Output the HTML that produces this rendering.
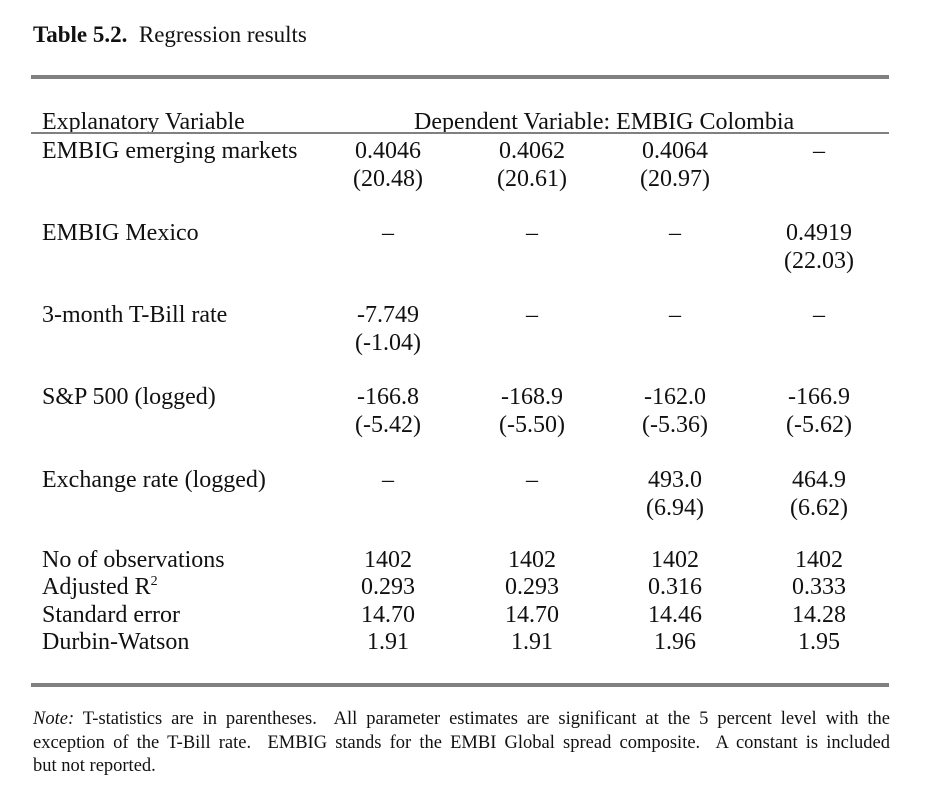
<!DOCTYPE html>
<html><head><style>
body{margin:0;width:937px;height:800px;background:#fff;position:relative;font-family:"Liberation Serif",serif;color:#111;overflow:hidden}
.t{position:absolute;font-size:24px;line-height:28px;white-space:nowrap}
.c{position:absolute;font-size:24px;line-height:28px;white-space:nowrap;width:140px;text-align:center}
.r{position:absolute;left:31px;width:858px;background:#808080}
.n{position:absolute;left:33px;font-size:18.5px;line-height:23.5px;width:857px;white-space:nowrap}
.j{text-align:justify;text-align-last:justify;white-space:normal}
</style></head><body>
<div class="t" style="left:33px;top:21px;font-size:23px"><b>Table 5.2.</b>&nbsp; Regression results</div>
<div class="r" style="top:75px;height:4px"></div>
<div class="t" style="left:42px;top:108px">Explanatory Variable</div>
<div class="t" style="left:414px;top:108px">Dependent Variable: EMBIG Colombia</div>
<div class="r" style="top:132px;height:2px"></div>

<div class="t" style="left:42px;top:137px">EMBIG emerging markets</div>
<div class="c" style="left:318px;top:137px">0.4046<br>(20.48)</div>
<div class="c" style="left:462px;top:137px">0.4062<br>(20.61)</div>
<div class="c" style="left:605px;top:137px">0.4064<br>(20.97)</div>
<div class="c" style="left:749px;top:137px">–</div>

<div class="t" style="left:42px;top:219px">EMBIG Mexico</div>
<div class="c" style="left:318px;top:219px">–</div>
<div class="c" style="left:462px;top:219px">–</div>
<div class="c" style="left:605px;top:219px">–</div>
<div class="c" style="left:749px;top:219px">0.4919<br>(22.03)</div>

<div class="t" style="left:42px;top:301px">3-month T-Bill rate</div>
<div class="c" style="left:318px;top:301px">-7.749<br>(-1.04)</div>
<div class="c" style="left:462px;top:301px">–</div>
<div class="c" style="left:605px;top:301px">–</div>
<div class="c" style="left:749px;top:301px">–</div>

<div class="t" style="left:42px;top:383px">S&amp;P 500 (logged)</div>
<div class="c" style="left:318px;top:383px">-166.8<br>(-5.42)</div>
<div class="c" style="left:462px;top:383px">-168.9<br>(-5.50)</div>
<div class="c" style="left:605px;top:383px">-162.0<br>(-5.36)</div>
<div class="c" style="left:749px;top:383px">-166.9<br>(-5.62)</div>

<div class="t" style="left:42px;top:466px">Exchange rate (logged)</div>
<div class="c" style="left:318px;top:466px">–</div>
<div class="c" style="left:462px;top:466px">–</div>
<div class="c" style="left:605px;top:466px">493.0<br>(6.94)</div>
<div class="c" style="left:749px;top:466px">464.9<br>(6.62)</div>

<div class="t" style="left:42px;top:547px;line-height:27.3px">No of observations<br>Adjusted R<sup style="font-size:14px;line-height:0">2</sup><br>Standard error<br>Durbin-Watson</div>
<div class="c" style="left:318px;top:547px;line-height:27.3px">1402<br>0.293<br>14.70<br>1.91</div>
<div class="c" style="left:462px;top:547px;line-height:27.3px">1402<br>0.293<br>14.70<br>1.91</div>
<div class="c" style="left:605px;top:547px;line-height:27.3px">1402<br>0.316<br>14.46<br>1.96</div>
<div class="c" style="left:749px;top:547px;line-height:27.3px">1402<br>0.333<br>14.28<br>1.95</div>

<div class="r" style="top:683px;height:4px"></div>
<div class="n j" style="top:708px"><i>Note:</i> T-statistics are in parentheses.&nbsp; All parameter estimates are significant at the 5 percent level with the</div>
<div class="n j" style="top:731.5px">exception of the T-Bill rate.&nbsp; EMBIG stands for the EMBI Global spread composite.&nbsp; A constant is included</div>
<div class="n" style="top:755px">but not reported.</div>
</body></html>
